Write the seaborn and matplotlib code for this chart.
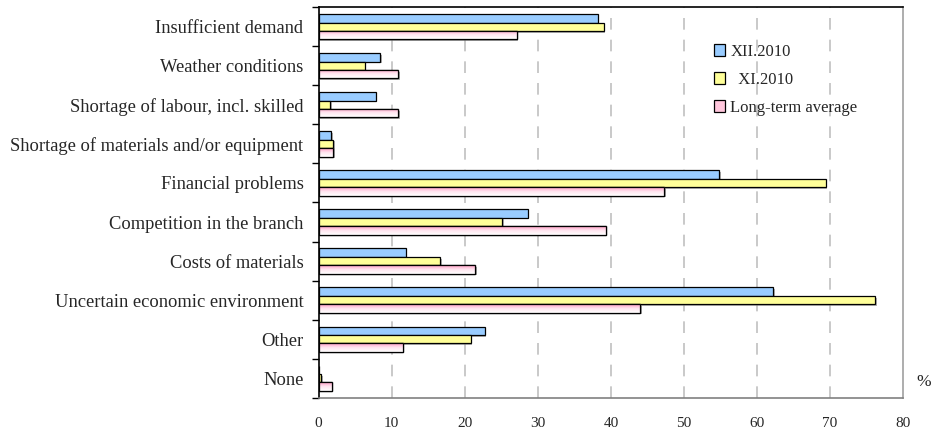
import numpy as np
import pandas as pd
import matplotlib
matplotlib.use("Agg")
import matplotlib.pyplot as plt
import matplotlib.patheffects as pe
from matplotlib.colors import LinearSegmentedColormap
import seaborn as sns

categories = [
    "Insufficient demand",
    "Weather conditions",
    "Shortage of labour, incl. skilled",
    "Shortage of materials and/or equipment",
    "Financial problems",
    "Competition in the branch",
    "Costs of materials",
    "Uncertain economic environment",
    "Other",
    "None",
]
series_names = ["XII.2010", "  XI.2010", "Long-term average"]
xii_2010 = [38.2, 8.4, 7.8, 1.7, 54.8, 28.6, 11.9, 62.2, 22.7, 0.0]
xi_2010 = [39.0, 6.3, 1.6, 2.0, 69.4, 25.1, 16.6, 76.2, 20.8, 0.3]
long_term = [27.1, 10.9, 10.9, 2.0, 47.3, 39.3, 21.4, 44.0, 11.5, 1.8]
x_ticks = [0, 10, 20, 30, 40, 50, 60, 70, 80]

colors = ["#99CCFF", "#FFFF99", "#FFC6DC"]

df = pd.DataFrame({
    "category": categories * 3,
    "series": sum([[s] * len(categories) for s in series_names], []),
    "value": xii_2010 + xi_2010 + long_term,
})

sns.set_theme(style="white")
plt.rcParams["font.family"] = ["Liberation Serif", "DejaVu Serif"]

fig = plt.figure(figsize=(9.31, 4.29), dpi=100)
ax = fig.add_axes([0.3423, 0.073, 0.6277, 0.910])

sns.barplot(
    data=df, y="category", x="value", hue="series", order=categories,
    hue_order=series_names, palette=colors, orient="h", width=0.645,
    edgecolor="black", linewidth=0.9, saturation=1, ax=ax, errorbar=None,
)

shadow = [pe.SimplePatchShadow(offset=(1.2, -1.2), shadow_rgbFace="#808080", alpha=0.6), pe.Normal()]
for p in ax.patches:
    p.set_path_effects(shadow)

# Soft pink gradient on the long-term average bars
pink_cmap = LinearSegmentedColormap.from_list("pinkgrad", ["#FF9CC4", "#FFE6F0", "#FFFFFF"])
grad = np.linspace(0, 1, 64).reshape(-1, 1)
for container in ax.containers[2:3]:
    for bar in container:
        x0, y0 = bar.get_x(), bar.get_y()
        w, h = bar.get_width(), bar.get_height()
        if w <= 0:
            continue
        im = ax.imshow(grad, cmap=pink_cmap, aspect="auto",
                       extent=(x0, x0 + w, y0 + h, y0), origin="upper", zorder=bar.get_zorder() + 0.1)
        im.set_clip_path(bar)
        edge = plt.Rectangle((x0, y0), w, h, fill=False, edgecolor="black",
                             linewidth=0.9, zorder=bar.get_zorder() + 0.2)
        ax.add_patch(edge)

ax.set_xlim(0, 80)
ax.set_ylim(len(categories) - 0.5, -0.5)
ax.set_xticks(x_ticks)
ax.set_xticklabels([str(t) for t in x_ticks], fontsize=11)
ax.tick_params(axis="x", length=0, pad=14)

ax.set_yticks(range(len(categories)))
ax.set_yticklabels(categories, fontsize=13.3)
ax.tick_params(axis="y", which="major", length=0, pad=11)
ax.set_yticks(np.arange(-0.5, len(categories), 1), minor=True)
ax.tick_params(axis="y", which="minor", length=5, width=1, color="black", direction="out", left=True)
ax.set_xlabel("")
ax.set_ylabel("")

for t in x_ticks[1:-1]:
    ax.axvline(t, color="#C0C0C0", linestyle=(0, (7, 6)), linewidth=1.2, zorder=0)

for side, col in [("left", "black"), ("top", "black"), ("bottom", "#808080"), ("right", "#A0A0A0")]:
    ax.spines[side].set_visible(True)
    ax.spines[side].set_color(col)
    ax.spines[side].set_linewidth(1.2)

ax.text(1.022, 0.04, "%", transform=ax.transAxes, fontsize=12.5, ha="left", va="center")

handles, labels = ax.get_legend_handles_labels()
for h in handles:
    h.set_path_effects([])
leg = ax.legend(handles, labels, loc="upper left", bbox_to_anchor=(0.65, 0.945),
                frameon=False, fontsize=12, handlelength=0.7, handleheight=0.7,
                handletextpad=0.3, labelspacing=0.72)

fig.savefig("out.png", dpi=100)
